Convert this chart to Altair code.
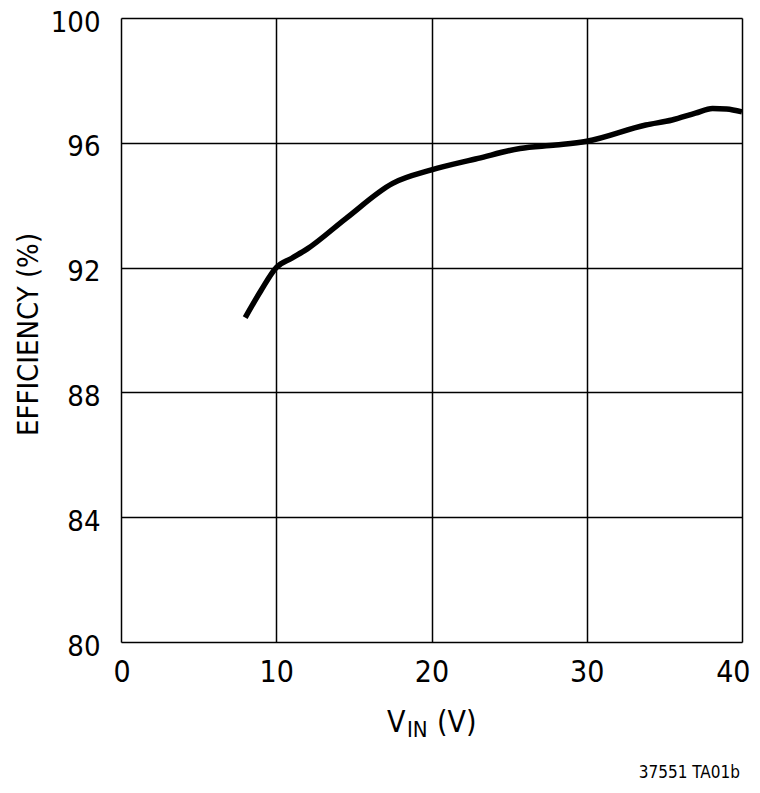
import altair as alt
import pandas as pd

vin = [8, 9, 10, 11, 12, 14.5, 17.5, 20, 23, 25.7, 28, 30, 33.8, 35.5, 37, 38.1, 39, 40]
eff = [90.4, 91.25, 92.0, 92.3, 92.6, 93.58, 94.7, 95.13, 95.5, 95.82, 95.93, 96.05, 96.57, 96.73, 96.95, 97.1, 97.08, 96.99]

x_ticks = [0, 10, 20, 30, 40]
y_ticks = [80, 84, 88, 92, 96, 100]
y_title = "EFFICIENCY (%)"
x_title_main = "V"
x_title_sub = "IN"
x_title_unit = "(V)"
footnote = "37551 TA01b"

FONT = "DejaVu Sans Condensed, Liberation Sans Narrow, sans-serif"
W, H = 621, 624

df = pd.DataFrame({"vin": vin, "eff": eff})

line = alt.Chart(df).mark_line(color="black", strokeWidth=5.5, interpolate="monotone").encode(
    x=alt.X("vin:Q", scale=alt.Scale(domain=[0, 40], nice=False),
            axis=alt.Axis(values=x_ticks, title=None, grid=True, ticks=False,
                          labelFontSize=30, labelFont=FONT, labelColor="black",
                          labelPadding=15, labelFlush=True, labelFlushOffset=8,
                          labelOverlap=False,
                          domain=False, gridColor="black", gridWidth=1.5, gridOpacity=1)),
    y=alt.Y("eff:Q", scale=alt.Scale(domain=[80, 100], nice=False, zero=False),
            axis=alt.Axis(values=y_ticks, title=y_title, grid=True, ticks=False,
                          labelFontSize=29, labelFont=FONT, labelColor="black",
                          labelPadding=21, labelFlush=False, labelOverlap=False,
                          labelOffset=4,
                          domain=False, gridColor="black", gridWidth=1.5, gridOpacity=1,
                          titleFont=FONT, titleFontSize=29, titleFontWeight="normal",
                          titleColor="black", titleX=-93, titleY=H / 2 + 4,
                          titleAngle=270, titleAlign="center", titleBaseline="middle")),
)

def txt(s, x, y, size, align="left"):
    return alt.Chart(pd.DataFrame({"t": [s]})).mark_text(
        font=FONT, fontSize=size, color="black", align=align, baseline="alphabetic"
    ).encode(text="t:N", x=alt.value(x), y=alt.value(y))

t1 = txt(x_title_main, 266, 714, 30)
t2 = txt(x_title_sub, 286, 719, 22)
t3 = txt(x_title_unit, 316, 714, 30)
t4 = txt(footnote, 619, 760, 17, align="right")

chart = alt.layer(line, t1, t2, t3, t4).properties(
    width=W, height=H,
    autosize=alt.AutoSizeParams(type="none"),
    padding={"left": 113, "top": 10, "right": 9, "bottom": 140},
).configure_view(stroke="black", strokeWidth=2).configure(background="white")

chart.save("out.html", embed_options={"renderer": "svg", "actions": False})
